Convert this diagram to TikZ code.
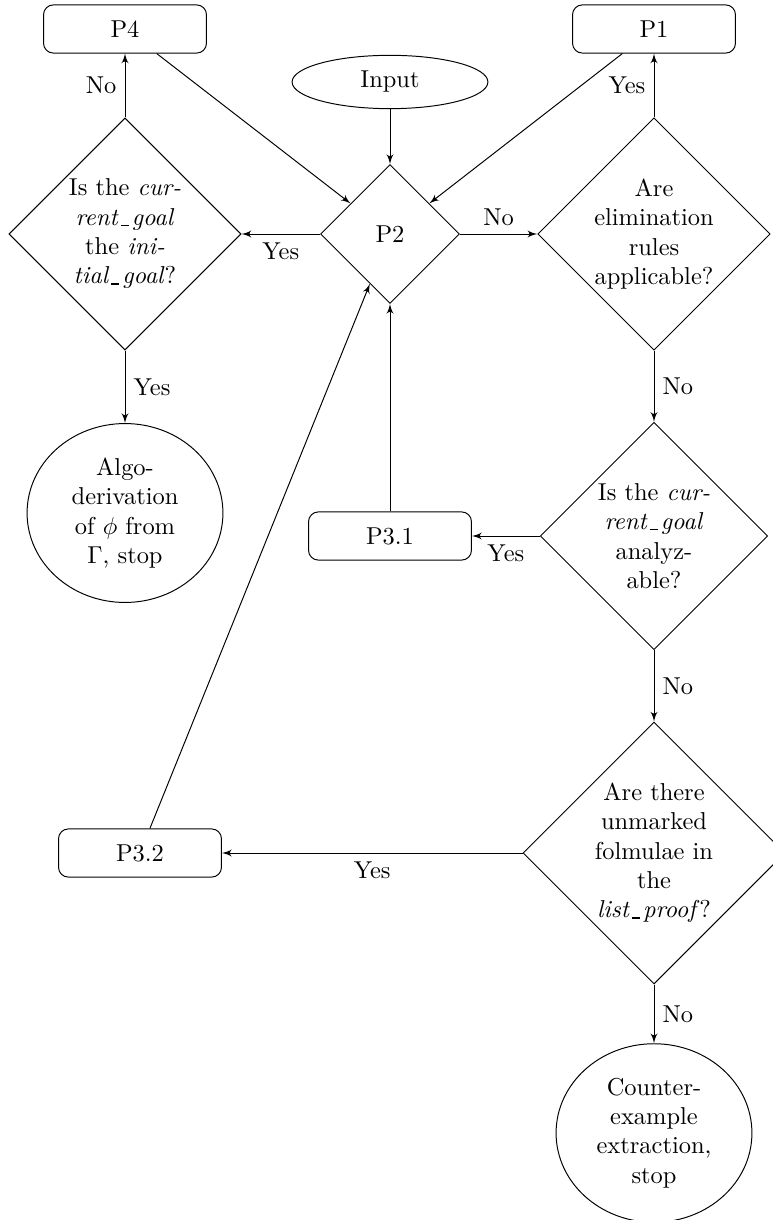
\documentclass[tikz,border=0pt]{standalone}
\usetikzlibrary{shapes.geometric,arrows}
\newcommand{\undsc}{\kern.12em\rule[-0.3pt]{.34em}{.5pt}\kern.12em}
\begin{document}
\begin{tikzpicture}[x=0.4092pt,y=-0.4092pt,
  decision/.style={diamond, draw, aspect=1, text width=50pt, align=center, inner sep=0pt},
  block/.style={rectangle, draw, rounded corners, text width=60pt, align=center, minimum height=19.7pt, inner sep=3.333pt},
  cloud/.style={ellipse, draw, text width=50pt, align=center, inner sep=3.333pt},
  line/.style={draw, -latex'}]
\useasboundingbox (0,0) rectangle (772,1220);
\node[block] (P4) at (125,29) {P4};
\node[block] (P1) at (654,29) {P1};
\node[cloud] (in) at (390,82) {Input};
\node[decision] (P2) at (390,234) {P2};
\node[decision] (q4) at (125,234) {Is the \textit{cur-}\\\textit{rent\undsc goal}\\the \textit{ini-}\\\textit{tial\undsc goal}?};
\node[decision] (q1) at (654,234) {Are\\elimination\\rules\\applicable?};
\node[cloud] (algo) at (125,513) {Algo-\\derivation\\of $\phi$ from\\$\Gamma$, stop};
\node[block] (P31) at (390,536) {P3.1};
\node[decision] (q3) at (654,536) {Is the \textit{cur-}\\\textit{rent\undsc goal}\\analyz-\\able?};
\node[decision] (q5) at (654,853) {Are there\\unmarked\\folmulae in\\the\\\textit{list\undsc proof}?};
\node[block] (P32) at (140,853) {P3.2};
\node[cloud] (ce) at (654,1133) {Counter-\\example\\extraction,\\stop};
\path[line] (in) -- (P2);
\path[line] (P2) -- node[above]{No} (q1);
\path[line] (P2) -- node[below]{Yes} (q4);
\path[line] (q4) -- node[left]{No} (P4);
\path[line] (q1) -- node[left]{Yes} (P1);
\path[line] (q4) -- node[right]{Yes} (algo);
\path[line] (q1) -- node[right]{No} (q3);
\path[line] (q3) -- node[below]{Yes} (P31);
\path[line] (q3) -- node[right]{No} (q5);
\path[line] (q5) -- node[below]{Yes} (P32);
\path[line] (q5) -- node[right]{No} (ce);
\path[line] (P4) -- (P2);
\path[line] (P1) -- (P2);
\path[line] (P31) -- (P2);
\path[line] (P32) -- (P2);
\end{tikzpicture}
\end{document}
